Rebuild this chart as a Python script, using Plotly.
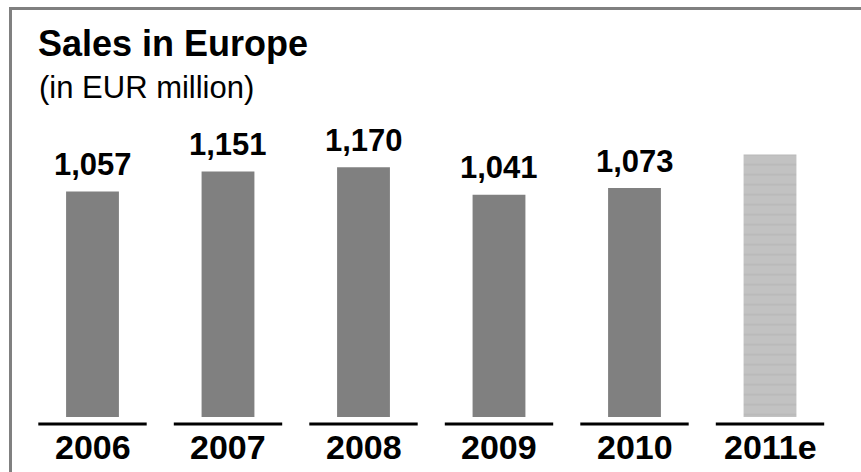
import plotly.graph_objects as go

# Sales in Europe, EUR million (2011 is an estimate)
years = ["2006", "2007", "2008", "2009", "2010", "2011e"]
sales = [1057, 1151, 1170, 1041, 1073, 1230]
labels = ["1,057", "1,151", "1,170", "1,041", "1,073", ""]
is_estimate = [False, False, False, False, False, True]

W, H = 861, 472
FONT = "Liberation Sans, Arial, sans-serif"
BAR_GREY = "#808080"


def px_x(p):
    return p / W


def px_y(p):
    return 1 - p / H


actual = [(y, v) for y, v, e in zip(years, sales, is_estimate) if not e]
estim = [(y, v) for y, v, e in zip(years, sales, is_estimate) if e]

fig = go.Figure()
fig.add_trace(go.Bar(
    x=[a[0] for a in actual], y=[a[1] for a in actual],
    width=0.39, marker=dict(color=BAR_GREY, line=dict(width=0)),
    hoverinfo="skip",
))
fig.add_trace(go.Bar(
    x=[a[0] for a in estim], y=[a[1] for a in estim],
    width=0.39,
    marker=dict(
        color="#c2c2c2", line=dict(width=0),
        pattern=dict(shape="-", fgcolor="#a8a8a8", bgcolor="#c2c2c2",
                     size=10, solidity=0.12),
    ),
    hoverinfo="skip",
))

# value labels above the actual bars (category index positions)
for i, (v, lab) in enumerate(zip(sales, labels)):
    if lab:
        fig.add_annotation(
            x=i, y=v, xref="x", yref="y", text=f"<b>{lab}</b>",
            showarrow=False, yanchor="middle", yshift=27,
            font=dict(family=FONT, size=31, color="black"),
        )

# black underline beneath each bar
for i, yr in enumerate(years):
    fig.add_shape(
        type="line", xref="x", yref="paper",
        x0=i - 0.4, x1=i + 0.4, y0=px_y(424), y1=px_y(424),
        line=dict(color="black", width=3),
    )

# frame along the top and left edges
fig.add_shape(type="line", xref="paper", yref="paper",
              x0=px_x(9), x1=1.01, y0=px_y(8.5), y1=px_y(8.5),
              line=dict(color=BAR_GREY, width=3))
fig.add_shape(type="line", xref="paper", yref="paper",
              x0=px_x(10.5), x1=px_x(10.5), y0=px_y(7), y1=-0.01,
              line=dict(color=BAR_GREY, width=3))

fig.add_annotation(
    x=px_x(36), y=px_y(44), xref="paper", yref="paper", xanchor="left",
    yanchor="middle", showarrow=False, text="<b>Sales in Europe</b>",
    font=dict(family=FONT, size=36, color="black"),
)
fig.add_annotation(
    x=px_x(37), y=px_y(87.5), xref="paper", yref="paper", xanchor="left",
    yanchor="middle", showarrow=False, text="(in EUR million)",
    font=dict(family=FONT, size=31, color="black"),
)

# year labels under the underlines
for i, yr in enumerate(years):
    fig.add_annotation(
        x=i, y=px_y(447), xref="x", yref="paper", yanchor="middle",
        showarrow=False, text=f"<b>{yr}</b>",
        font=dict(family=FONT, size=34, color="black"),
    )

spacing = 135.5
x_start = -92.5 / spacing
fig.update_layout(
    width=W, height=H,
    margin=dict(l=0, r=0, t=0, b=0),
    paper_bgcolor="white", plot_bgcolor="white",
    showlegend=False, barmode="overlay",
    xaxis=dict(type="category", categoryorder="array", categoryarray=years,
               range=[x_start, x_start + W / spacing], domain=[0, 1],
               showticklabels=False, showgrid=False, zeroline=False,
               showline=False, ticks=""),
    yaxis=dict(range=[0, 1300], domain=[px_y(417), px_y(417 - 1300 * 0.2134)],
               showticklabels=False, showgrid=False, zeroline=False,
               showline=False, ticks=""),
)
fig.update_traces(cliponaxis=False)

fig.write_html("out.html")
